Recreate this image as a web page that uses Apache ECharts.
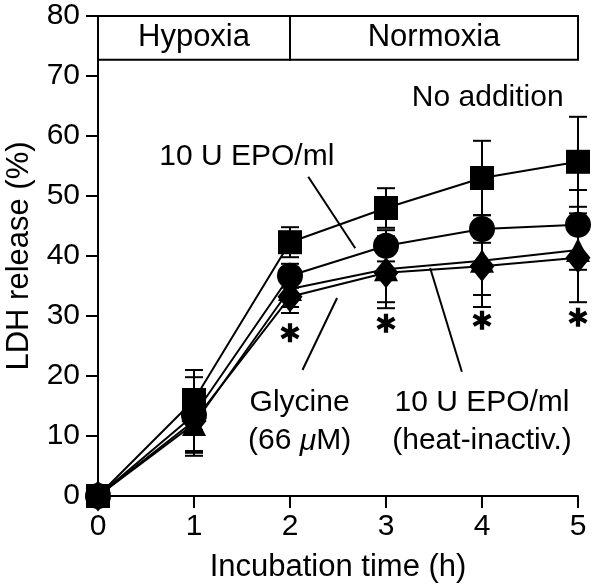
<!DOCTYPE html>
<html><head><meta charset="utf-8">
<script src="https://cdn.jsdelivr.net/npm/echarts@6/dist/echarts.min.js"></script>
<style>html,body{margin:0;padding:0;background:#fff}#c{width:600px;height:585px}</style>
</head><body><div id="c"></div>
<script>
const times = [0, 1, 2, 3, 4, 5];
const noAddition = [0, 16, 42.3, 48, 53, 55.7];
const noAdditionErr = [0, 5, 2.5, 3.3, 6.2, 7.5];
const epo = [0, 13.5, 36.7, 41.7, 44.5, 45.2];
const epoErr = [0, 6.3, 2, 2.6, 2.3, 5.8];
const epoHeat = [0, 12, 34.5, 37.8, 39.2, 41];
const epoHeatErr = [0, 5.3, 3, 5.5, 5.7, 3.3];
const glycine = [0, 12.5, 33.2, 37.2, 38.3, 39.7];
const glycineErr = [0, 5, 2.7, 5.9, 6.8, 7.4];
const stars = [[2, 27.2], [3, 28.8], [4, 29.3], [5, 29.8]];
const phases = ['Hypoxia', 'Normoxia'];
const phaseBounds = [0, 2, 5];
const phaseBand = [72.7, 80];

const FONT = 'Liberation Sans';

function pairs(vals) { return times.map((t, i) => [t, vals[i]]); }
function errData(vals, errs) {
  return times.map((t, i) => [t, vals[i], errs[i]]).filter(d => d[2] > 0);
}
// six-armed asterisk symbol
function starPath() {
  const w = 2.2, L = 10;
  let p = '';
  [90, 30, -30].forEach(a => {
    const r = a * Math.PI / 180, c = Math.cos(r), s = Math.sin(r);
    const pts = [[-L, -w], [L, -w], [L, w], [-L, w]].map(([x, y]) => [x * c - y * s, x * s + y * c]);
    p += 'M' + pts.map(q => q[0].toFixed(2) + ',' + q[1].toFixed(2)).join('L') + 'Z';
  });
  return 'path://' + p;
}

function errSeries(vals, errs) {
  return {
    type: 'custom', z: 2, clip: false,
    data: errData(vals, errs),
    renderItem: function (params, api) {
      const x = api.value(0), y = api.value(1), e = api.value(2);
      const top = api.coord([x, y + e]), bot = api.coord([x, y - e]);
      const w = 9;
      const st = { stroke: '#000', lineWidth: 2 };
      return {
        type: 'group', children: [
          { type: 'line', shape: { x1: top[0], y1: top[1], x2: bot[0], y2: bot[1] }, style: st },
          { type: 'line', shape: { x1: top[0] - w, y1: top[1], x2: top[0] + w, y2: top[1] }, style: st },
          { type: 'line', shape: { x1: bot[0] - w, y1: bot[1], x2: bot[0] + w, y2: bot[1] }, style: st }
        ]
      };
    }
  };
}
function lineSeries(name, vals, symbol, size) {
  return {
    name: name, type: 'line', data: pairs(vals), symbol: symbol, symbolSize: size,
    clip: false, z: 3,
    lineStyle: { color: '#000', width: 2 },
    itemStyle: { color: '#000', borderWidth: 0, opacity: 1 }
  };
}

const chart = echarts.init(document.getElementById('c'), null, { renderer: 'canvas' });
chart.setOption({
  animation: false,
  backgroundColor: '#fff',
  grid: { left: 98, right: 22, top: 16, bottom: 89, containLabel: false, outerBoundsMode: 'none' },
  xAxis: {
    type: 'value', min: 0, max: 5, interval: 1,
    name: 'Incubation time (h)', nameLocation: 'middle', nameGap: 56,
    nameTextStyle: { color: '#000', fontFamily: FONT, fontSize: 31 },
    axisLine: { show: true, lineStyle: { color: '#000', width: 2 } },
    axisTick: { show: true, length: 12, lineStyle: { color: '#000', width: 2 } },
    axisLabel: { color: '#000', fontFamily: FONT, fontSize: 30, margin: 16 },
    splitLine: { show: false }
  },
  yAxis: {
    type: 'value', min: 0, max: 80, interval: 10,
    name: 'LDH release (%)', nameLocation: 'middle', nameGap: 63,
    nameTextStyle: { color: '#000', fontFamily: FONT, fontSize: 31 },
    axisLine: { show: true, lineStyle: { color: '#000', width: 2 } },
    axisTick: { show: true, length: 12, lineStyle: { color: '#000', width: 2 } },
    axisLabel: { color: '#000', fontFamily: FONT, fontSize: 30, margin: 18 },
    splitLine: { show: false }
  },
  series: [
    errSeries(noAddition, noAdditionErr),
    errSeries(epo, epoErr),
    errSeries(epoHeat, epoHeatErr),
    errSeries(glycine, glycineErr),
    lineSeries('Glycine', glycine, 'diamond', [25, 31]),
    lineSeries('EPO heat', epoHeat, 'triangle', 24),
    lineSeries('EPO', epo, 'circle', 26),
    lineSeries('No addition', noAddition, 'rect', 24),
    {
      type: 'scatter', data: stars, symbol: starPath(), symbolSize: 19,
      itemStyle: { color: '#000', opacity: 1 }, z: 4, clip: false,
      markArea: {
        silent: true,
        itemStyle: { color: '#fff', borderColor: '#000', borderWidth: 2, opacity: 1 },
        label: { show: true, position: 'inside', color: '#000', fontFamily: FONT, fontSize: 31 },
        data: phases.map((p, i) => [
          { name: p, xAxis: phaseBounds[i], yAxis: phaseBand[0] },
          { xAxis: phaseBounds[i + 1], yAxis: phaseBand[1] }
        ])
      },
      markLine: {
        silent: true, symbol: 'none',
        lineStyle: { color: '#000', width: 2, type: 'solid', opacity: 1 },
        label: { show: false },
        data: [
          [{ coord: [2.19, 53.2] }, { coord: [2.68, 41.3] }],
          [{ coord: [2.49, 33] }, { coord: [2.13, 21] }],
          [{ coord: [3.46, 38] }, { coord: [3.79, 20.7] }]
        ]
      },
      markPoint: {
        silent: true, symbol: 'circle', symbolSize: 0,
        label: { show: true, position: 'inside', color: '#000', fontFamily: FONT, fontSize: 30, lineHeight: 38,
          rich: { it: { fontStyle: 'italic', fontFamily: FONT, fontSize: 30, color: '#000' }, n: { fontFamily: FONT, fontSize: 30, color: '#000' } } },
        data: [
          { coord: [4.06, 66.3], value: 0, label: { formatter: 'No addition' } },
          { coord: [1.55, 56.5], value: 0, label: { formatter: '10 U EPO/ml' } },
          { coord: [2.1, 12.3], value: 0, label: { formatter: '{n|Glycine}\n{n|(66 }{it|μ}{n|M)}' } },
          { coord: [4.0, 12.3], value: 0, label: { formatter: '10 U EPO/ml\n(heat-inactiv.)' } }
        ]
      }
    }
  ]
});
</script></body></html>
